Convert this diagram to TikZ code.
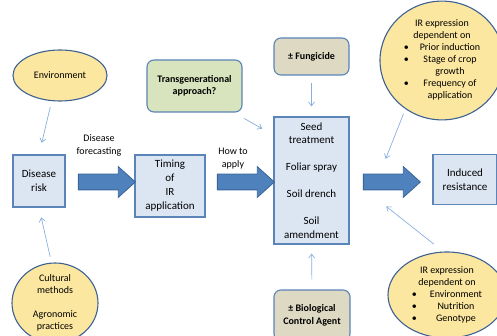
\documentclass[tikz,border=0pt]{standalone}
\usepackage{fontspec}
\setmainfont{Carlito}
\usepackage{tikz}
\usetikzlibrary{positioning,arrows.meta,shapes.geometric,shapes.arrows}
\definecolor{boxfill}{HTML}{DCE6F2}
\definecolor{boxline}{HTML}{5B84B8}
\definecolor{oval}{HTML}{FCE7A0}
\definecolor{ovalline}{HTML}{3E6194}
\definecolor{leaf}{HTML}{D7E4BD}
\definecolor{sand}{HTML}{DDD9C3}
\definecolor{flow}{HTML}{4F81BD}
\definecolor{flowline}{HTML}{3A6496}
\definecolor{hint}{HTML}{8AAEDD}

\begin{document}
\begin{tikzpicture}[x=1pt,y=-1pt,font=\fontsize{11}{13.5}\selectfont,
  stage/.style={draw=boxline,fill=boxfill,line width=1.1pt,align=center,inner sep=0pt},
  factor/.style={ellipse,draw=ovalline,fill=oval,line width=1.1pt,align=center,inner sep=0pt,
    font=\fontsize{10}{12}\selectfont},
  option/.style={draw=boxline,line width=1.1pt,rounded corners=7pt,align=center,inner sep=0pt,
    font=\fontsize{10}{12.5}\selectfont\bfseries},
  flowarrow/.style={single arrow,draw=flowline,fill=flow,line width=0.8pt,inner xsep=0pt,inner ysep=7.5pt,
    minimum height=57pt,single arrow head extend=7.5pt,single arrow tip angle=84},
  hintarrow/.style={draw=hint,line width=0.7pt,-{Straight Barb[length=4pt,width=6pt]}},
  cue/.style={align=center,font=\fontsize{10}{13}\selectfont}]
  \useasboundingbox (0,0) rectangle (497,336);

  % main chain
  \node[stage,minimum width=52pt,minimum height=52pt] (risk) at (39,181) {Disease\\risk};
  \node[stage,minimum width=70pt,minimum height=62pt,font=\fontsize{11}{14}\selectfont] (timing) at (170,186)
    {Timing\\of\\IR\\application};
  \node[stage,minimum width=75pt,minimum height=127pt] (seed) at (311.5,180.5)
    {Seed\\treatment\\[13.5pt]Foliar spray\\[13.5pt]Soil drench\\[13.5pt]Soil\\amendment};
  \node[stage,minimum width=64pt,minimum height=50pt] (induced) at (465,179.5) {Induced\\resistance};
  \foreach \n/\x in {a1/102.5,a2/241.5,a3/387.5}
    \node[flowarrow] (\n) at (\x,182) {};
  \node[cue] (forecast) at (99,145.5) {Disease\\forecasting};
  \node[cue] (howto) at (233,158.5) {How to\\apply};

  % influences
  \node[factor,minimum width=94pt,minimum height=51pt] (env) at (60,75.5) {Environment};
  \node[factor,minimum width=86pt,minimum height=80pt] (cult) at (55,303)
    {Cultural\\methods\\[12pt]Agronomic\\practices};
  \node[option,fill=leaf,minimum width=95pt,minimum height=52pt] (trans) at (194.5,86)
    {Transgenerational\\approach?};
  \node[option,fill=sand,minimum width=75pt,minimum height=37pt] (fung) at (311.5,56.5) {± Fungicide};
  \node[option,fill=sand,minimum width=76pt,minimum height=51pt] (bio) at (312,315.5)
    {± Biological\\Control Agent};
  \node[factor,minimum width=124pt,minimum height=95pt] (ir1) at (442,60.5) {%
    \begin{tabular}{@{}c@{\hspace{11pt}}c@{}}
      \multicolumn{2}{c}{IR expression}\\
      \multicolumn{2}{c}{dependent on}\\
      \textbullet & Prior induction\\
      \textbullet & Stage of crop\\
                  & growth\\
      \textbullet & Frequency of\\
                  & application
    \end{tabular}};
  \node[factor,minimum width=118pt,minimum height=86pt] (ir2) at (447,295) {%
    \begin{tabular}{@{}c@{\hspace{13pt}}c@{}}
      \multicolumn{2}{c}{IR expression}\\
      \multicolumn{2}{c}{dependent on}\\
      \textbullet & Environment\\
      \textbullet & Nutrition\\
      \textbullet & Genotype
    \end{tabular}};

  \draw[hintarrow,shorten <=6pt,shorten >=12pt] (env.252) -- (risk.north);
  \draw[hintarrow,shorten <=6pt,shorten >=10pt] (cult.95) -- (risk.south);
  \draw[hintarrow,shorten <=12pt,shorten >=13pt] (trans.326) -- (seed.130);
  \draw[hintarrow,shorten <=7pt,shorten >=10pt] (fung.south) -- (seed.north);
  \draw[hintarrow,shorten <=10pt,shorten >=9pt] (bio.north) -- (seed.south);
  \draw[hintarrow,shorten <=5pt,shorten >=16pt] (ir1.233) -- (a3.133);
  \draw[hintarrow,shorten <=12pt,shorten >=26pt] (ir2.95) -- (a3.201);
\end{tikzpicture}
\end{document}
